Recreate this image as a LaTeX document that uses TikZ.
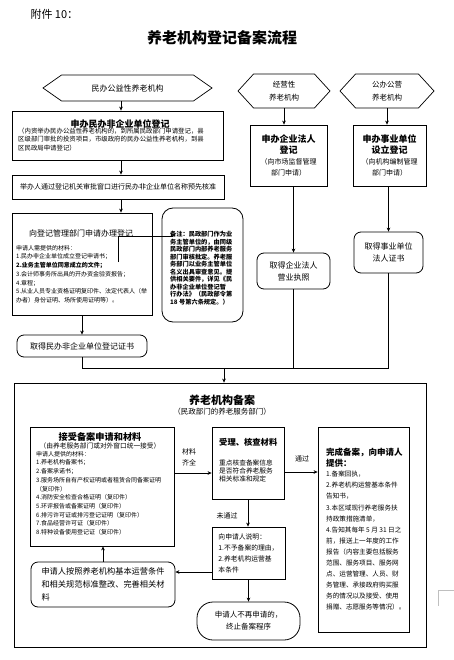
\documentclass[tikz,border=0pt]{standalone}
\usepackage{fontspec}
\setmainfont{Noto Sans CJK SC}
\usetikzlibrary{arrows.meta,positioning,calc,shapes.symbols}
\newcommand{\fsz}[2]{\fontsize{#1}{#2}\selectfont}

\begin{document}
\begin{tikzpicture}[x=1pt,y=-1pt,>={Stealth[length=4pt,width=3.6pt]}]
  \tikzstyle{box}=[draw,line width=0.8pt,inner sep=2pt,align=center]
  \tikzstyle{rbox}=[box,rounded corners=7pt]
  \tikzstyle{hexa}=[draw,line width=0.7pt,signal,signal to=west and east,align=center,inner sep=0pt]
  \tikzstyle{txt}=[inner sep=0pt,align=left,anchor=north west]
  \tikzstyle{ln}=[line width=0.6pt]
  \tikzstyle{arr}=[ln,->]
  \useasboundingbox (0,0) rectangle (454,660);

  \node[anchor=west,font=\fsz{11}{13}] (annex) at (27,14) {附件 10：};
  \node[font=\fsz{15}{17}\bfseries] (title) at (222,38) {养老机构登记备案流程};

  % 民办非企业单位登记
  \node[hexa,minimum width=169,minimum height=26,signal pointer angle=70,font=\fsz{8}{10}] (hex1) at (127.5,88) {民办公益性养老机构};
  \node[box,minimum width=211,minimum height=49] (reg1) at (117.5,135.5) {};
  \node[font=\fsz{9}{10}\bfseries] (reg1t) at (120,124) {申办民办非企业单位登记};
  \node[txt,font=\fsz{6.4}{8.3}] (reg1x) at (18,128) {（内资举办民办公益性养老机构的，到所属民政部门申请登记，县\\区级部门审批的投资项目，市级政府的民办公益性养老机构，到县\\区民政局申请登记）};
  \node[box,minimum width=212,minimum height=24,font=\fsz{7}{8}] (name) at (118,187) {举办人通过登记机关审批窗口进行民办非企业单位名称预先核准};
  \node[box,minimum width=140,minimum height=102] (apply) at (82,264) {};
  \node[font=\fsz{8}{9}] (applyt) at (81,233) {向登记管理部门申请办理登记};
  \node[txt,font=\fsz{6}{8.7}] (applyx) at (16,245) {申请人需提供的材料：\\1.民办非企业单位成立登记申请书；\\\textbf{2.业务主管单位同意成立的文件；}\\3.会计师事务所出具的开办资金验资报告；\\4.章程；\\5.从业人员专业资格证明复印件、法定代表人（举\\办者）身份证明、场所使用证明等）。};
  \node[rbox,rounded corners=11pt,minimum width=81,minimum height=114] (note) at (202.5,265) {};
  \node[txt,font=\fsz{6.2}{7.5}\bfseries] (notex) at (170,231) {备注：民政部门作为业\\务主管单位的，由同级\\民政部门内部养老服务\\部门审核批定。养老服\\务部门以业务主管单位\\名义出具审查意见。提\\供相关要件，详见《民\\办非企业单位登记暂\\行办法》（民政部令第\\18 号第六条规定。）};
  \node[rbox,minimum width=130,minimum height=22,font=\fsz{8}{9}] (cert1) at (82,346) {取得民办非企业单位登记证书};
  \coordinate (k1) at (118,262);
  \coordinate (k2) at (173,236);
  \draw[ln] (k1) |- (k2);
  \draw[arr] ([xshift=-6.5]hex1.south) -- ([xshift=-6.5]hex1.south |- reg1.north);
  \draw[arr] ([xshift=3.5]reg1.south) -- ([xshift=3.5]reg1.south |- name.north);
  \draw[arr] ([xshift=3]name.south) -- ([xshift=3]name.south |- apply.north);
  \draw[arr] (apply.south) -- (cert1.north);

  % 企业法人 / 事业单位
  \node[hexa,minimum width=92,minimum height=34,signal pointer angle=95,font=\fsz{7.5}{13}] (hex2) at (284,91) {经营性\\养老机构};
  \node[hexa,minimum width=94,minimum height=34,signal pointer angle=95,font=\fsz{7.5}{13}] (hex3) at (387,91) {公办公营\\养老机构};
  \node[box,minimum width=77,minimum height=61,font=\fsz{7}{11}] (reg2) at (288.5,155.5) {{\fsz{9}{11}\bfseries 申办企业法人}\\{\fsz{9}{11}\bfseries 登记}\\（向市场监督管理\\部门申请）};
  \node[box,minimum width=73,minimum height=61,font=\fsz{7}{11}] (reg3) at (389.5,155.5) {{\fsz{9}{11}\bfseries 申办事业单位}\\{\fsz{9}{11}\bfseries 设立登记}\\（向机构编制管理\\部门申请）};
  \node[rbox,minimum width=73,minimum height=36,font=\fsz{8}{12}] (cert2) at (293.5,271) {取得企业法人\\营业执照};
  \node[rbox,minimum width=69,minimum height=41,font=\fsz{8}{12}] (cert3) at (388.5,252.5) {取得事业单位\\法人证书};
  \draw[arr] (hex2.south) -- (hex2.south |- reg2.north);
  \draw[arr] (hex3.south) -- (hex3.south |- reg3.north);
  \draw[arr] (cert2.north |- reg2.south) -- (cert2.north);
  \draw[arr] (cert3.north |- reg3.south) -- (cert3.north);

  % 养老机构备案
  \node[box,minimum width=412,minimum height=264] (file) at (220,515) {};
  \node[font=\fsz{11}{12}\bfseries] (filet) at (222,400) {养老机构备案};
  \node[font=\fsz{7.5}{8}] (files) at (222,412) {（民政部门的养老服务部门）};
  \coordinate (join) at (224,368);
  \draw[ln] (cert1.south) |- (join -| cert3.south) -- (cert3.south);
  \draw[ln] (cert2.south) -- (cert2.south |- join);
  \draw[arr] (join) -- (join |- file.north);

  \node[box,minimum width=144,minimum height=119] (accept) at (102,486.5) {};
  \node[font=\fsz{9.2}{10}\bfseries] (acceptt) at (100,437) {接受备案申请和材料};
  \node[font=\fsz{6.7}{7}] (accepts) at (100,446) {（由养老服务部门或对外窗口统一接受）};
  \node[txt,font=\fsz{6}{8.7}] (acceptx) at (36,451) {申请人提供的材料：\\1.养老机构备案书；\\2.备案承诺书；\\3.服务场所自有产权证明或者租赁合同备案证明\\（复印件）\\4.消防安全检查合格证明（复印件）\\5.环评报告或备案证明（复印件）\\6.排污许可证或排污登记证明（复印件）\\7.食品经营许可证（复印件）\\8.特种设备使用登记证（复印件）};

  \node[box,minimum width=72,minimum height=72] (check) at (248,463) {};
  \node[txt,font=\fsz{8.3}{9}\bfseries] (checkt) at (219,438) {受理、核查材料};
  \node[txt,font=\fsz{6.7}{8}] (checkx) at (219,460) {重点核查备案信息\\是否符合养老服务\\相关标准和规定};

  \node[box,minimum width=91,minimum height=205] (done) at (363.5,529.5) {};
  \node[txt,font=\fsz{8.5}{10.5}\bfseries] (donet) at (326,448) {完成备案，向申请人\\提供：};
  \node[txt,font=\fsz{6.6}{11.1}] (donex) at (326,471) {1.备案回执，\\2.养老机构运营基本条件\\告知书，\\3.本区域现行养老服务扶\\持政策措施清单，\\4.告知其每年 5 月 31 日之\\前，报送上一年度的工作\\报告（内容主要包括服务\\范围、服务项目、服务网\\点、运营管理、人员、财\\务管理、承接政府购买服\\务的情况以及接受、使用\\捐赠、志愿服务等情况）。};

  \node[box,minimum width=73,minimum height=52,align=left,font=\fsz{6.8}{11}] (explain) at (248.5,553) {向申请人说明：\\1.不予备案的理由，\\2.养老机构运营基\\本条件};
  \node[rbox,minimum width=144,minimum height=45,align=left,font=\fsz{8.2}{13}] (revise) at (103,584.5) {申请人按照养老机构基本运营条件\\和相关规范标准整改、完善相关材\\料};
  \node[rbox,rounded corners=16pt,minimum width=103,minimum height=38,font=\fsz{7.5}{12}] (stop) at (248.5,621) {申请人不再申请的，\\终止备案程序};

  \node[font=\fsz{7}{11},align=left] (lbl1) at (189,457) {材料\\齐全};
  \node[font=\fsz{7}{8}] (lbl2) at (302,459) {通过};
  \node[font=\fsz{7}{8}] (lbl3) at (227,516) {未通过};

  \coordinate (a1) at ($(check.west)+(0,10)$);
  \coordinate (a2) at ($(check.east)+(0,9)$);
  \coordinate (a3) at ($(explain.west)+(0,19)$);
  \draw[arr] (a1 -| accept.east) -- (a1);
  \draw[arr] (a2) -- (a2 -| done.west);
  \draw[arr] (check.south) -- (check.south |- explain.north);
  \draw[arr] (a3) -- (a3 -| revise.east);
  \draw[arr] (revise.north) -- (revise.north |- accept.south);
  \draw[arr] (explain.south) -- (stop.north);

  \draw[gray!50,line width=0.5pt] (454,590) -| (438,606);
\end{tikzpicture}
\end{document}
